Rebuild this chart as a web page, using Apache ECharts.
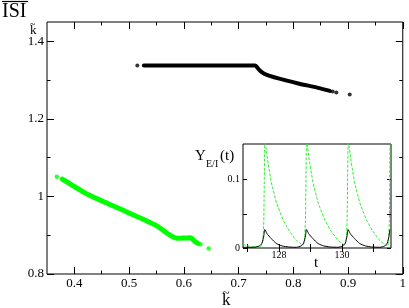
<!DOCTYPE html>
<html><head><meta charset="utf-8">
<script src="https://cdn.jsdelivr.net/npm/echarts@6/dist/echarts.min.js"></script>
<style>html,body{margin:0;padding:0;background:#fff}#c{width:409px;height:308px}</style>
</head><body><div id="c"></div>
<script>
// ---- main panel data ----
const blackLine = [[0.527,1.338],[0.60,1.338],[0.68,1.338],[0.7304,1.338],[0.735,1.331],[0.7395,1.324],[0.7485,1.3155],[0.7727,1.3044],[0.8091,1.2915],[0.8455,1.2802],[0.8667,1.2724]];
const blackDots = [[0.515,1.338],[0.872,1.2705],[0.8787,1.2683],[0.9031,1.2632]];
const greenLine = [[0.378,1.045],[0.427,1.0036],[0.488,0.965],[0.5485,0.926],[0.5878,0.892],[0.612,0.8936],[0.621,0.883],[0.626,0.879]];
const greenDots = [[0.368,1.0508],[0.630,0.8765],[0.6455,0.866]];
const xMajor = [0.4,0.5,0.6,0.7,0.8,0.9,1.0];
const xMinor = [0.45,0.55,0.65,0.75,0.85,0.95];
const yMajor = [0.8,1.0,1.2,1.4];
const yMinor = [0.9,1.1,1.3];
// ---- inset data ----
const insetBlack = [[126.86,0.001],[127.2,0.001],[127.38,0.003],[127.46,0.007],[127.52,0.018],[127.55,0.027],[127.62,0.021],[127.75,0.014],[127.92,0.0065],[128.1,0.003],[128.3,0.0015],[128.55,0.001],[128.7,0.003],[128.78,0.007],[128.84,0.018],[128.87,0.027],[128.94,0.021],[129.07,0.014],[129.24,0.0065],[129.42,0.003],[129.62,0.0015],[129.87,0.001],[130.02,0.003],[130.1,0.007],[130.16,0.018],[130.19,0.027],[130.26,0.021],[130.39,0.014],[130.56,0.0065],[130.74,0.003],[130.94,0.0015],[131.2,0.001],[131.35,0.003],[131.43,0.007],[131.49,0.018],[131.51,0.027]];
const insetGreen = [[126.86,0.006],[127.0,0.003],[127.2,0.002],[127.42,0.002],[127.49,0.01],[127.52,0.04],[127.55,0.16],[127.65,0.125],[127.76,0.095],[127.92,0.066],[128.13,0.041],[128.34,0.024],[128.55,0.011],[128.76,0.004],[128.8,0.003],[128.81,0.01],[128.84,0.04],[128.87,0.16],[128.97,0.125],[129.08,0.095],[129.24,0.066],[129.45,0.041],[129.66,0.024],[129.87,0.011],[130.08,0.004],[130.12,0.003],[130.13,0.01],[130.16,0.04],[130.19,0.16],[130.29,0.125],[130.4,0.095],[130.56,0.066],[130.77,0.041],[130.98,0.024],[131.19,0.011],[131.38,0.004],[131.45,0.003],[131.47,0.01],[131.5,0.04],[131.52,0.16]];
const tMajor = [128,130];
const tTicks = [127,128,129,130,131];
const yInLabels = [0,0.1];
const yInTicks = [0,0.05,0.1];

const SERIF = 'Liberation Serif';
const chart = echarts.init(document.getElementById('c'), null, {renderer:'canvas'});

function ax(grid, pos, min, max, ticks, len, labels, lblSize, margin){
  return {
    type:'value', gridIndex:grid, position:pos, min:min, max:max,
    axisLine:{show:false}, splitLine:{show:false},
    axisTick:{show:true, inside:true, length:len, customValues:ticks, lineStyle:{color:'#000',width:1}},
    axisLabel: labels ? {show:true, customValues:labels, fontFamily:SERIF, fontSize:lblSize, color:'#000', margin:margin,
      formatter:v=>String(+v.toFixed(3))} : {show:false}
  };
}

const XMIN=0.35, XMAX=1.0, YMIN=0.8, YMAX=1.45;
const TMIN=126.86, TMAX=131.55, IMIN=0, IMAX=0.152;

chart.setOption({
  animation:false,
  backgroundColor:'#fff',
  grid:[
    {left:47, top:22, width:358, height:252, show:true, borderColor:'#000', borderWidth:1, backgroundColor:'transparent', z:0},
    {left:243, top:144, width:148, height:104, show:true, borderColor:'#000', borderWidth:1, backgroundColor:'#fff', z:5}
  ],
  xAxis:[
    ax(0,'bottom',XMIN,XMAX,xMajor,7,xMajor,13,3),
    ax(0,'bottom',XMIN,XMAX,xMinor,3.5,null),
    ax(0,'top',XMIN,XMAX,xMajor,7,null),
    ax(0,'top',XMIN,XMAX,xMinor,3.5,null),
    Object.assign(ax(1,'bottom',TMIN,TMAX,tTicks,4,tMajor,10,2),{z:6}),
    Object.assign(ax(1,'top',TMIN,TMAX,tTicks,4,null),{z:6})
  ],
  yAxis:[
    ax(0,'left',YMIN,YMAX,yMajor,7,yMajor,13,3),
    ax(0,'left',YMIN,YMAX,yMinor,3.5,null),
    ax(0,'right',YMIN,YMAX,yMajor,7,null),
    ax(0,'right',YMIN,YMAX,yMinor,3.5,null),
    Object.assign(ax(1,'left',IMIN,IMAX,yInTicks,4,yInLabels,10,3),{z:6}),
    Object.assign(ax(1,'right',IMIN,IMAX,yInTicks,4,null),{z:6})
  ],
  series:[
    {type:'line', xAxisIndex:0, yAxisIndex:0, data:blackLine, showSymbol:false, smooth:0.3,
     lineStyle:{color:'#000', width:4, cap:'round', join:'round'}, z:2},
    {type:'scatter', xAxisIndex:0, yAxisIndex:0, data:blackDots, symbolSize:4, itemStyle:{color:'#000'}, z:2},
    {type:'line', xAxisIndex:0, yAxisIndex:0, data:greenLine, showSymbol:false, smooth:0.25,
     lineStyle:{color:'#00ff00', width:5, cap:'round', join:'round'}, z:2},
    {type:'scatter', xAxisIndex:0, yAxisIndex:0, data:greenDots, symbolSize:4.5, itemStyle:{color:'#00ff00'}, z:2},
    {type:'line', xAxisIndex:4, yAxisIndex:4, data:insetGreen, showSymbol:false, clip:true,
     lineStyle:{color:'#33ee33', width:1, type:[3,1.5]}, z:7},
    {type:'line', xAxisIndex:4, yAxisIndex:4, data:insetBlack, showSymbol:false, clip:true, smooth:0.2,
     lineStyle:{color:'#000', width:1}, z:8}
  ],
  graphic:[
    {type:'text', left:2, top:2, style:{text:'ISI', font:'20px "'+SERIF+'"', fill:'#000'}},
    {type:'line', shape:{x1:2, y1:1.5, x2:28, y2:1.5}, style:{stroke:'#000', lineWidth:1.2}},
    {type:'text', left:30, top:24, style:{text:'k', font:'13px "'+SERIF+'"', fill:'#000'}},
    {type:'text', left:30, top:19.5, style:{text:'~', font:'10px "'+SERIF+'"', fill:'#000'}},
    {type:'text', left:222, top:292.5, style:{text:'k', font:'17px "'+SERIF+'"', fill:'#000'}},
    {type:'text', left:222.5, top:287, style:{text:'~', font:'13px "'+SERIF+'"', fill:'#000'}},
    {type:'text', left:314, top:256, style:{text:'t', font:'15px "'+SERIF+'"', fill:'#000'}, z:10},
    {type:'text', left:195, top:149, style:{text:'Y', font:'15px "'+SERIF+'"', fill:'#000'}, z:10},
    {type:'text', left:206, top:159, style:{text:'E/I', font:'10px "'+SERIF+'"', fill:'#000'}, z:10},
    {type:'text', left:220, top:149, style:{text:'(t)', font:'15px "'+SERIF+'"', fill:'#000'}, z:10}
  ]
});
</script></body></html>
